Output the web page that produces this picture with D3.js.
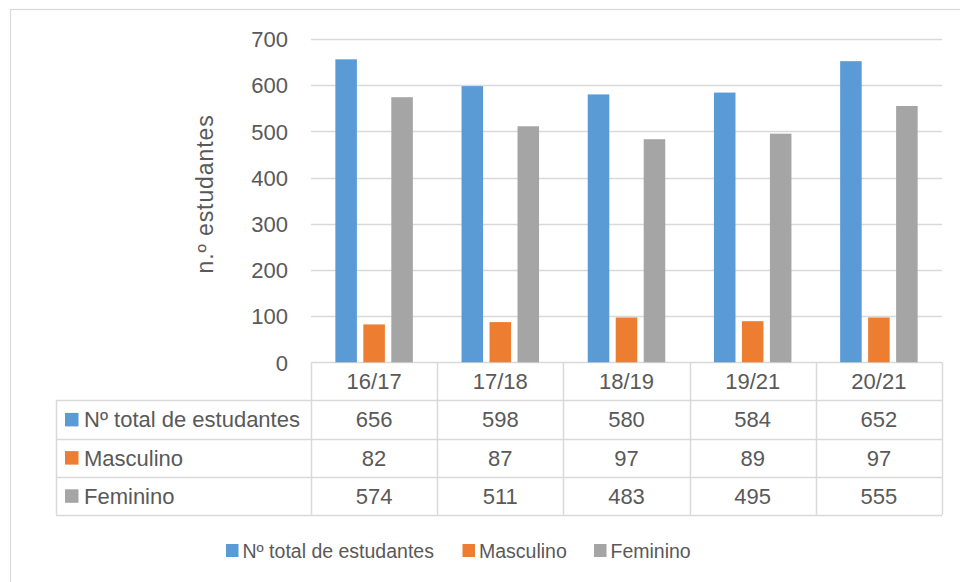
<!DOCTYPE html>
<html>
<head>
<meta charset="utf-8">
<script src="https://cdn.jsdelivr.net/npm/d3@7"></script>
<style>
html,body{margin:0;padding:0;background:#fff;}
svg{display:block;}
text{font-family:"Liberation Sans",Arial,sans-serif;fill:#595959;}
</style>
</head>
<body>
<svg id="chart" width="960" height="582"></svg>
<script>
const categories = ["16/17", "17/18", "18/19", "19/21", "20/21"];
const seriesNames = ["Nº total de estudantes", "Masculino", "Feminino"];
const totalValues = [656, 598, 580, 584, 652];
const maleValues = [82, 87, 97, 89, 97];
const femaleValues = [574, 511, 483, 495, 555];
const yTicks = [0, 100, 200, 300, 400, 500, 600, 700];
const colors = ["#5b9bd5", "#ed7d31", "#a5a5a5"];
const yTitle = "n.º  estudantes";

const series = [totalValues, maleValues, femaleValues];

const svg = d3.select("#chart");
const plotLeft = 311, plotRight = 942, plotTop = 39, plotBottom = 362.3;
const gridColor = "#d9d9d9";

// outer border
svg.append("rect").attr("x", 10.5).attr("y", 9.5).attr("width", 1000).attr("height", 1000)
  .attr("fill", "none").attr("stroke", gridColor).attr("stroke-width", 1.2);

const x0 = d3.scaleBand().domain(categories).range([plotLeft, plotRight]).paddingInner(0).paddingOuter(0);
const x1 = d3.scaleBand().domain(d3.range(series.length)).range([0, x0.bandwidth()]).paddingInner(0.23).paddingOuter(0.87);
const y = d3.scaleLinear().domain([0, 700]).range([plotBottom, plotTop]);

// gridlines
svg.append("g").selectAll("line").data(yTicks).join("line")
  .attr("x1", plotLeft).attr("x2", plotRight)
  .attr("y1", d => Math.round(y(d)) + 0.5).attr("y2", d => Math.round(y(d)) + 0.5)
  .attr("stroke", gridColor).attr("stroke-width", 1.3);

// y axis labels
const yAxis = d3.axisLeft(y).tickValues(yTicks).tickSize(0).tickPadding(0);
const yg = svg.append("g").attr("transform", "translate(288,0)").call(yAxis);
yg.select(".domain").remove();
yg.selectAll("text").attr("font-size", 22).attr("fill", "#595959")
  .attr("font-family", "Liberation Sans, Arial, sans-serif").attr("dy", "0.35em");

// y title
svg.append("text").attr("transform", "translate(213,194) rotate(-90)")
  .attr("text-anchor", "middle").attr("font-size", 23).attr("letter-spacing", 0.9).text(yTitle);

// bars
const groups = svg.append("g").selectAll("g").data(categories).join("g")
  .attr("transform", d => `translate(${x0(d)},0)`);
groups.selectAll("rect").data((c, ci) => series.map((s, si) => ({si, v: s[ci]}))).join("rect")
  .attr("x", d => x1(d.si)).attr("width", x1.bandwidth())
  .attr("y", d => y(d.v)).attr("height", d => y(0) - y(d.v))
  .attr("fill", d => colors[d.si]);

// data table
const rowTop = 400.3, rowH = 38.2, tableLeft = 56;
const tg = svg.append("g");
const bounds = categories.map(c => x0(c)).concat([plotRight]);
tg.selectAll("line.hv").data(bounds).join("line").attr("class", "hv")
  .attr("x1", d => Math.round(d) + 0.5).attr("x2", d => Math.round(d) + 0.5)
  .attr("y1", plotBottom).attr("y2", rowTop + rowH * series.length)
  .attr("stroke", gridColor).attr("stroke-width", 1.5);
tg.selectAll("line.hh").data(d3.range(series.length + 1)).join("line").attr("class", "hh")
  .attr("x1", tableLeft).attr("x2", plotRight)
  .attr("y1", i => Math.round(rowTop + i * rowH) + 0.5).attr("y2", i => Math.round(rowTop + i * rowH) + 0.5)
  .attr("stroke", gridColor).attr("stroke-width", 1.5);
tg.append("line").attr("x1", tableLeft + 0.5).attr("x2", tableLeft + 0.5)
  .attr("y1", rowTop).attr("y2", rowTop + rowH * series.length)
  .attr("stroke", gridColor).attr("stroke-width", 1.5);
tg.selectAll("text.hd").data(categories).join("text").attr("class", "hd")
  .attr("x", d => x0(d) + x0.bandwidth() / 2).attr("y", (plotBottom + rowTop) / 2)
  .attr("dy", "0.36em").attr("text-anchor", "middle").attr("font-size", 22).text(d => d);
series.forEach((s, si) => {
  const cy = rowTop + rowH * si + rowH / 2;
  tg.append("rect").attr("x", 65).attr("y", cy - 6.5).attr("width", 13.5).attr("height", 13.5).attr("fill", colors[si]);
  tg.append("text").attr("x", 84).attr("y", cy).attr("dy", "0.36em").attr("font-size", 22).text(seriesNames[si]);
  tg.selectAll(null).data(s).join("text")
    .attr("x", (d, i) => x0(categories[i]) + x0.bandwidth() / 2).attr("y", cy)
    .attr("dy", "0.36em").attr("text-anchor", "middle").attr("font-size", 22).text(d => d);
});

// legend
const legendX = [226, 462.5, 594];
const lg = svg.append("g");
seriesNames.forEach((n, i) => {
  lg.append("rect").attr("x", legendX[i]).attr("y", 544).attr("width", 12.5).attr("height", 13).attr("fill", colors[i]);
  lg.append("text").attr("x", legendX[i] + 16.5).attr("y", 550.5).attr("dy", "0.36em").attr("font-size", 19.5).text(n);
});
</script>
</body>
</html>
